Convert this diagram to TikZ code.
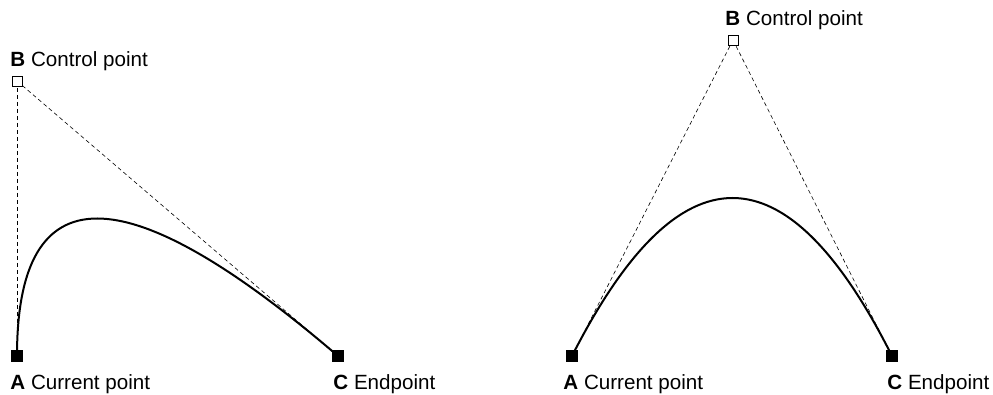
\documentclass[tikz,border=0pt]{standalone}
\usepackage{fontspec}
\setmainfont{Liberation Sans}
\usetikzlibrary{calc}
\tikzset{
  endpt/.style={draw, fill=black, minimum size=5.6pt, inner sep=0pt, line width=0.3pt},
  ctrlpt/.style={draw, fill=white, minimum size=5pt, inner sep=0pt, line width=0.4pt},
  guide/.style={line width=0.3pt, dash pattern=on 2pt off 1.5pt},
  curve/.style={line width=1pt},
  lbl/.style={anchor=base west, inner sep=0pt},
}

\begin{document}
\begin{tikzpicture}[font=\fontsize{10.3}{12}\selectfont, x=0.5pt, y=-0.5pt]
  \useasboundingbox (0,0) rectangle (993,395);
  % ============ (a) control point above the current point ============
  \begin{scope}[shift={(0,0)}]
    \coordinate (Pa) at (17,356);
    \coordinate (Pb) at (17,81);
    \coordinate (Pc) at (338,356);
    \draw[guide] (Pb) -- (Pa);
    \draw[guide] (Pb) -- (Pc);
    \draw[curve] (Pa) .. controls ($(Pa)!2/3!(Pb)$) and ($(Pc)!2/3!(Pb)$) .. (Pc);
    \node[endpt] (ptA) at (Pa) {};
    \node[endpt] (ptC) at (Pc) {};
    \node[ctrlpt] (ptB) at (Pb) {};
    \node[lbl] (labA) at (10,390) {\textbf{A} Current point};
    \node[lbl] (labB) at (10,67) {\textbf{B} Control point};
    \node[lbl] (labC) at (333,390) {\textbf{C} Endpoint};
  \end{scope}
  % ============ (b) control point centred ============
  \begin{scope}[shift={(555,0)}]
    \coordinate (Qa) at (17,356);
    \coordinate (Qb) at (178,40);
    \coordinate (Qc) at (337,356);
    \draw[guide] (Qb) -- (Qa);
    \draw[guide] (Qb) -- (Qc);
    \draw[curve] (Qa) .. controls ($(Qa)!2/3!(Qb)$) and ($(Qc)!2/3!(Qb)$) .. (Qc);
    \node[endpt] (qtA) at (Qa) {};
    \node[endpt] (qtC) at (Qc) {};
    \node[ctrlpt] (qtB) at (Qb) {};
    \node[lbl] (lbA) at (8,390) {\textbf{A} Current point};
    \node[lbl] (lbB) at (170,26) {\textbf{B} Control point};
    \node[lbl] (lbC) at (332,390) {\textbf{C} Endpoint};
  \end{scope}
\end{tikzpicture}
\end{document}
